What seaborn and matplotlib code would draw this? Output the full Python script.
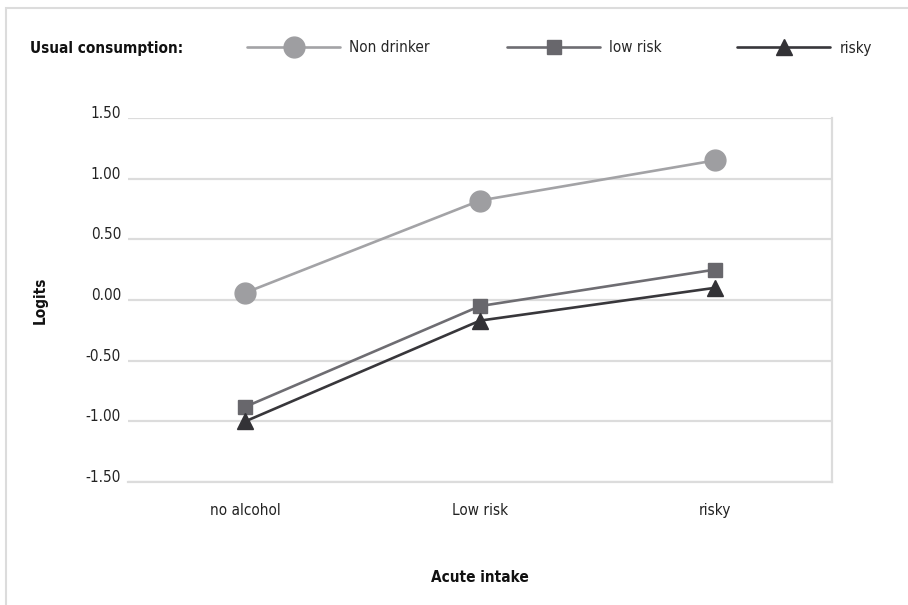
import pandas as pd
import matplotlib
matplotlib.use("Agg")
import matplotlib.pyplot as plt
import seaborn as sns
from matplotlib.lines import Line2D
from matplotlib.patches import Rectangle

# Valeurs
acute_intake = ["no alcohol", "Low risk", "risky"]
non_drinker = [0.06, 0.82, 1.15]
low_risk = [-0.88, -0.05, 0.25]
risky = [-1.00, -0.17, 0.10]
groups = ["Non drinker", "low risk", "risky"]

couleurs = {"Non drinker": "#9e9ea1", "low risk": "#68676c", "risky": "#333236"}
lignes = {"Non drinker": "#a3a3a6", "low risk": "#6e6d72", "risky": "#38373b"}
marqueurs = {"Non drinker": "o", "low risk": "s", "risky": "^"}
tailles = {"Non drinker": 15, "low risk": 10, "risky": 12}

data = pd.DataFrame({
    "intake": acute_intake * 3,
    "logit": non_drinker + low_risk + risky,
    "group": [g for g in groups for _ in acute_intake],
})

sns.set_style("white")
plt.rcParams['font.family'] = ['DejaVu Sans']
plt.rcParams['font.stretch'] = 'condensed'
taille_txt = 11

fig = plt.figure(figsize=(9.08, 6.05), dpi=100)
ax = fig.add_axes([128 / 908, 1 - 482 / 605, 704 / 908, 364 / 605])

# cadre extérieur
fig.patches.append(Rectangle((6 / 908, -0.1), 1.2, (1 - 8 / 605) + 0.1, transform=fig.transFigure,
                             fill=False, edgecolor="#dcdcdc", linewidth=1.5))

data["x"] = data["intake"].map({k: i for i, k in enumerate(acute_intake)})
for g in groups:
    sub = data[data["group"] == g]
    sns.lineplot(data=sub, x="x", y="logit", ax=ax, color=lignes[g], linewidth=1.9, zorder=2)
    ax.plot(sub["x"], sub["logit"], linestyle="none", marker=marqueurs[g],
            markersize=tailles[g], color=couleurs[g], zorder=3)

ax.set_xlim(-0.5, 2.5)
ax.set_ylim(-1.5, 1.5)
yt = [-1.5, -1.0, -0.5, 0.0, 0.5, 1.0, 1.5]
ax.set_yticks(yt)
ax.set_yticklabels([f"{v:.2f}" for v in yt], fontsize=taille_txt, color="#222222")
ax.set_xticks(range(3))
ax.set_xticklabels(acute_intake, fontsize=taille_txt, color="#222222")
ax.tick_params(axis="y", length=0, pad=5)
ax.tick_params(axis="x", length=0, pad=15)
# les étiquettes de l'axe y reposent sur la ligne de grille
for lab in ax.get_yticklabels():
    lab.set_va("baseline")
ax.grid(axis="y", color="#dcdcdc", linewidth=1.6)
ax.set_axisbelow(True)
for s in ["left", "top"]:
    ax.spines[s].set_visible(False)
for s in ["right", "bottom"]:
    ax.spines[s].set_color("#dcdcdc")
    ax.spines[s].set_linewidth(1.6)

ax.set_xlabel("Acute intake", fontsize=taille_txt, fontweight="bold", color="#111111")
ax.set_ylabel("Logits", fontsize=taille_txt, fontweight="bold", color="#111111")
ax.xaxis.set_label_coords(0.5, (482 - 578) / 364)
ax.yaxis.set_label_coords((40 - 128) / 704, 0.5)
ax.xaxis.label.set_va("center")
ax.yaxis.label.set_va("center")

# légende en haut
fig.text(30 / 908, 1 - 48 / 605, "Usual consumption:", fontsize=taille_txt, fontweight="bold",
         va="center", ha="left", color="#111111")
starts = [247, 507, 737]
for g, x0 in zip(groups, starts):
    h = Line2D([0], [0], color=lignes[g], marker=marqueurs[g], markersize=tailles[g],
               markerfacecolor=couleurs[g], markeredgecolor=couleurs[g], linewidth=1.9)
    fig.legend([h], [g], loc="center left", bbox_to_anchor=((x0 - 6) / 908, 1 - 48 / 605),
               frameon=False, fontsize=taille_txt, handlelength=6.1, handletextpad=0.6,
               borderpad=0.4, borderaxespad=0)

fig.savefig("out.png", dpi=100)
